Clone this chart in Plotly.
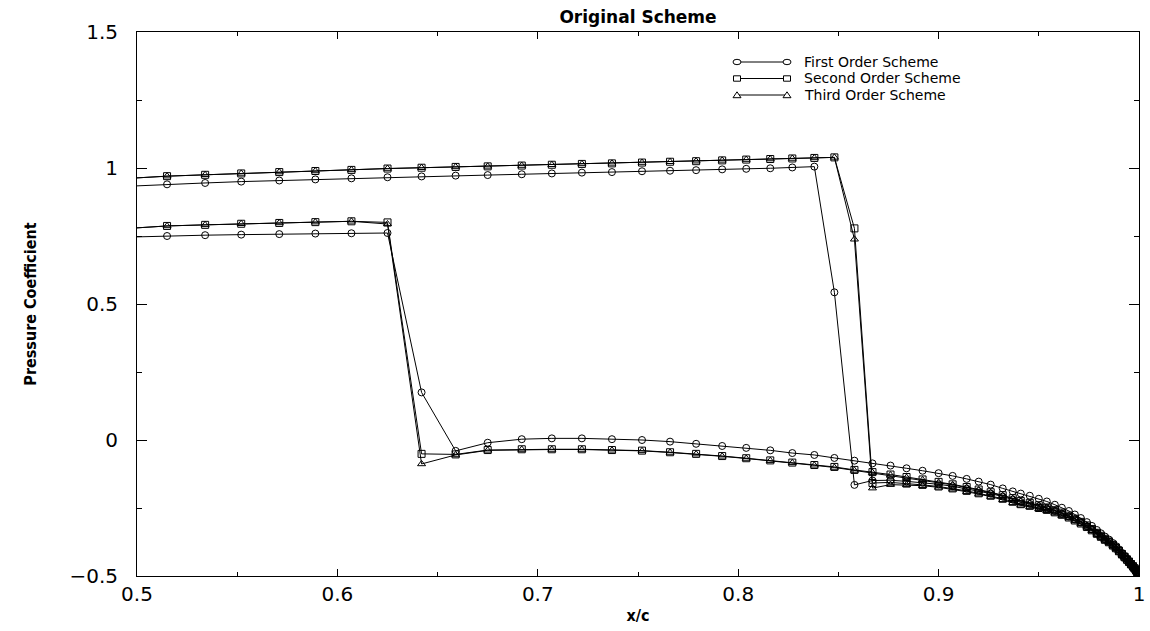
import plotly.graph_objects as go

# ---------------- data ----------------
x_c = [0.496, 0.515, 0.534, 0.552, 0.571, 0.589, 0.607, 0.625, 0.642, 0.659,
       0.675, 0.692, 0.707, 0.722, 0.737, 0.752, 0.766, 0.779, 0.792, 0.804,
       0.816, 0.827, 0.838, 0.848, 0.858,
       0.867, 0.876, 0.884, 0.892, 0.900, 0.907, 0.914, 0.920, 0.926, 0.932,
       0.937, 0.941,
       0.9455, 0.950, 0.954, 0.958, 0.9615, 0.965, 0.968, 0.971, 0.974, 0.9765,
       0.979, 0.981, 0.983, 0.985, 0.987, 0.9885, 0.990, 0.9915, 0.9928, 0.994,
       0.995, 0.996, 0.997, 0.9978, 0.9985, 0.9991, 0.9996, 1.0]

# surface with the forward shock (x/c ~ 0.63)
fwd_first = [0.746, 0.750, 0.753, 0.755, 0.757, 0.759, 0.760, 0.761, 0.175, -0.040,
             -0.010, 0.003, 0.006, 0.006, 0.003, 0.000, -0.006, -0.014, -0.022, -0.029,
             -0.038, -0.048, -0.055, -0.066, -0.076,
             -0.086, -0.094, -0.104, -0.113, -0.122, -0.132, -0.143, -0.153, -0.164, -0.178,
             -0.189, -0.197,
             -0.205, -0.216, -0.226, -0.238, -0.249, -0.261, -0.274, -0.287, -0.302, -0.316,
             -0.331, -0.343, -0.355, -0.366, -0.379, -0.390, -0.402, -0.415, -0.426, -0.436,
             -0.445, -0.454, -0.463, -0.471, -0.478, -0.485, -0.491, -0.497]
fwd_second = [0.778, 0.787, 0.791, 0.795, 0.798, 0.801, 0.804, 0.800, -0.051, -0.053,
              -0.037, -0.034, -0.034, -0.034, -0.037, -0.039, -0.045, -0.051, -0.059, -0.067,
              -0.075, -0.083, -0.092, -0.099, -0.110,
              -0.118, -0.127, -0.136, -0.145, -0.154, -0.163, -0.173, -0.182, -0.192, -0.203,
              -0.214, -0.224,
              -0.231, -0.240, -0.248, -0.258, -0.267, -0.278, -0.289, -0.301, -0.314, -0.327,
              -0.341, -0.352, -0.363, -0.373, -0.385, -0.395, -0.407, -0.419, -0.429, -0.439,
              -0.447, -0.456, -0.464, -0.472, -0.479, -0.485, -0.491, -0.497]
fwd_third = [0.778, 0.787, 0.791, 0.795, 0.798, 0.801, 0.804, 0.794, -0.088, -0.055,
             -0.038, -0.035, -0.035, -0.035, -0.038, -0.040, -0.046, -0.052, -0.060, -0.068,
             -0.076, -0.084, -0.093, -0.101, -0.112,
             -0.120, -0.129, -0.138, -0.147, -0.156, -0.165, -0.175, -0.184, -0.194, -0.205,
             -0.216, -0.226,
             -0.233, -0.241, -0.249, -0.259, -0.269, -0.279, -0.290, -0.302, -0.315, -0.328,
             -0.342, -0.353, -0.364, -0.374, -0.386, -0.396, -0.407, -0.419, -0.430, -0.439,
             -0.448, -0.456, -0.465, -0.472, -0.479, -0.485, -0.491, -0.497]

# surface with the aft shock (x/c ~ 0.85)
aft_first = [0.933, 0.940, 0.945, 0.950, 0.954, 0.958, 0.962, 0.966, 0.969, 0.972,
             0.974, 0.977, 0.980, 0.983, 0.985, 0.988, 0.990, 0.992, 0.995, 0.997,
             0.999, 1.002, 1.005, 0.543, -0.165,
             -0.149, -0.148, -0.152, -0.157, -0.163, -0.170, -0.179, -0.188, -0.197, -0.208,
             -0.219, -0.228,
             -0.235, -0.244, -0.252, -0.261, -0.271, -0.281, -0.292, -0.303, -0.317, -0.329,
             -0.343, -0.354, -0.365, -0.374, -0.386, -0.396, -0.408, -0.420, -0.430, -0.439,
             -0.448, -0.456, -0.465, -0.472, -0.479, -0.485, -0.491, -0.497]
aft_second = [0.962, 0.970, 0.975, 0.980, 0.985, 0.989, 0.993, 0.998, 1.001, 1.004,
              1.006, 1.009, 1.012, 1.015, 1.017, 1.020, 1.023, 1.025, 1.028, 1.031,
              1.033, 1.035, 1.037, 1.039, 0.778,
              -0.158, -0.156, -0.160, -0.165, -0.171, -0.178, -0.187, -0.196, -0.205, -0.216,
              -0.227, -0.236,
              -0.242, -0.250, -0.257, -0.266, -0.275, -0.285, -0.296, -0.307, -0.320, -0.332,
              -0.345, -0.356, -0.367, -0.376, -0.388, -0.398, -0.409, -0.421, -0.431, -0.440,
              -0.448, -0.457, -0.465, -0.472, -0.479, -0.486, -0.491, -0.497]
aft_third = [0.962, 0.970, 0.975, 0.980, 0.985, 0.989, 0.993, 0.998, 1.001, 1.004,
             1.006, 1.009, 1.012, 1.015, 1.017, 1.020, 1.023, 1.025, 1.028, 1.031,
             1.033, 1.035, 1.037, 1.039, 0.738,
             -0.177, -0.164, -0.165, -0.168, -0.174, -0.181, -0.190, -0.199, -0.208, -0.220,
             -0.231, -0.240,
             -0.246, -0.253, -0.260, -0.269, -0.278, -0.287, -0.298, -0.309, -0.321, -0.334,
             -0.347, -0.357, -0.368, -0.377, -0.389, -0.399, -0.409, -0.421, -0.431, -0.440,
             -0.449, -0.457, -0.465, -0.473, -0.479, -0.486, -0.491, -0.497]

scheme_names = ["First Order Scheme", "Second Order Scheme", "Third Order Scheme"]
scheme_symbols = ["circle-open", "square-open", "triangle-up-open"]

x_ticks = [0.5, 0.6, 0.7, 0.8, 0.9, 1.0]
x_tick_text = ["0.5", "0.6", "0.7", "0.8", "0.9", "1"]
y_ticks = [-0.5, 0, 0.5, 1, 1.5]
y_tick_text = ["\u22120.5", "0", "0.5", "1", "1.5"]

# ---------------- figure ----------------
fig = go.Figure()

series = [
    (fwd_first, 0), (aft_first, 0),
    (fwd_second, 1), (aft_second, 1),
    (fwd_third, 2), (aft_third, 2),
]
for vals, k in series:
    fig.add_trace(go.Scatter(
        x=x_c, y=vals, mode="lines+markers", name=scheme_names[k],
        legendgroup=scheme_names[k], showlegend=False,
        line=dict(color="black", width=1),
        marker=dict(symbol=scheme_symbols[k], size=7, color="black",
                    line=dict(color="black", width=1)),
    ))

W, H = 1150, 631
L, R, T, B = 137, 11, 32, 55
pw, ph = W - L - R, H - T - B

# hand-drawn key (gnuplot style: symbol - line - symbol)
key_x0 = (737 - L) / pw
key_x1 = (787 - L) / pw
key_tx = (803 - L) / pw
key_rows = [62, 78.5, 95]
shapes = []
annotations = []
for i, name in enumerate(scheme_names):
    yk = 1 - (key_rows[i] - T) / ph
    shapes.append(dict(type="line", xref="paper", yref="paper",
                       x0=key_x0, x1=key_x1, y0=yk, y1=yk,
                       line=dict(color="black", width=1)))
    for xa in (key_x0, key_x1):
        base = dict(xref="paper", yref="paper", xsizemode="pixel", ysizemode="pixel",
                    xanchor=xa, yanchor=yk, line=dict(color="black", width=1),
                    fillcolor="white")
        if i == 0:
            shapes.append(dict(type="circle", x0=-4, x1=4, y0=-2.7, y1=2.7, **base))
        elif i == 1:
            shapes.append(dict(type="rect", x0=-3.5, x1=3.5, y0=-2.7, y1=2.7, **base))
        else:
            shapes.append(dict(type="path", path="M-4,-2.7 L4,-2.7 L0,3.2 Z", **base))
    annotations.append(dict(xref="paper", yref="paper", x=key_tx, y=yk,
                            xanchor="left", yanchor="middle", showarrow=False,
                            borderpad=0,
                            text=name, font=dict(family="DejaVu Sans", size=14, color="black")))

fig.update_layout(
    width=W, height=H,
    margin=dict(l=L, r=R, t=T, b=B),
    paper_bgcolor="white", plot_bgcolor="white",
    showlegend=False,
    title=dict(text="<b>Original Scheme</b>", x=0.5, xref="paper", xanchor="center",
               y=1 - 17 / H, yref="container", yanchor="middle",
               font=dict(family="DejaVu Sans", size=17, color="black")),
    shapes=shapes,
    annotations=annotations,
    font=dict(family="DejaVu Sans", color="black"),
)

fig.update_xaxes(
    range=[0.5, 1.0], tickvals=x_ticks, ticktext=x_tick_text,
    ticks="inside", ticklen=7, tickwidth=1, tickcolor="black",
    minor=dict(dtick=0.05, ticks="inside", ticklen=4, tickcolor="black", tickwidth=1),
    showline=True, linecolor="black", linewidth=1, mirror="ticks",
    showgrid=False, zeroline=False,
    tickfont=dict(family="DejaVu Sans", size=20, color="black"),
    title=dict(text="<b>x/c</b>", standoff=4,
               font=dict(family="Liberation Sans Narrow, DejaVu Sans Condensed, Arial Narrow, sans-serif",
                         size=16, color="black")),
    automargin=False,
)
fig.update_yaxes(
    range=[-0.5, 1.5], tickvals=y_ticks, ticktext=y_tick_text,
    ticks="inside", ticklen=10, tickwidth=1, tickcolor="black",
    minor=dict(dtick=0.25, ticks="inside", ticklen=5, tickcolor="black", tickwidth=1),
    showline=True, linecolor="black", linewidth=1, mirror="ticks",
    showgrid=False, zeroline=False,
    tickfont=dict(family="DejaVu Sans", size=20, color="black"),
    ticklabelstandoff=14,
    title=dict(text="<b>Pressure Coefficient</b>", standoff=28,
               font=dict(family="Liberation Sans Narrow, DejaVu Sans Condensed, Arial Narrow, sans-serif",
                         size=16, color="black")),
    automargin=False,
)

fig.write_html("out.html")
